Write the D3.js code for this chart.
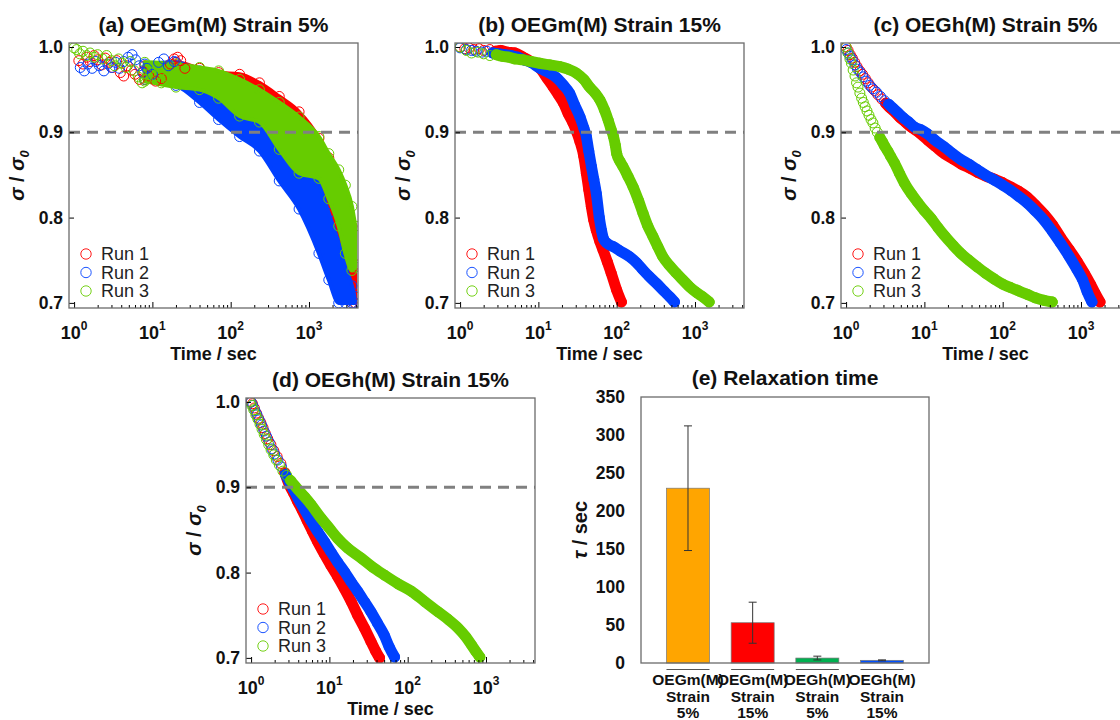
<!DOCTYPE html>
<html>
<head>
<meta charset="utf-8">
<script src="https://cdn.jsdelivr.net/npm/d3@7"></script>
<style>
  body { margin: 0; background: #fff; }
  svg text { font-family: "Liberation Sans", Arial, sans-serif; }
</style>
</head>
<body>
<svg id="chart" width="1120" height="720"></svg>
<script>
// ---- data: [time (s), sigma/sigma0] ----

// (a) OEGm(M) 5% : noisy, early scattered rings + envelope [t, lo, hi]
const aRun1Early = [[1.15,0.984],[1.3,0.980],[1.45,0.988],[1.6,0.983],[1.8,0.990],[2.0,0.985],[2.25,0.979],[2.5,0.987],[2.8,0.982],[3.1,0.976],[3.5,0.984],[3.9,0.970],[4.3,0.966],[4.8,0.978],[5.4,0.973],[6,0.968],[6.8,0.962],[7.6,0.971],[9,0.966],[11,0.960],[13,0.963],[17,0.980],[19,0.986],[21,0.988],[23,0.984],[26,0.975]]
const aRun2Early = [[1.2,0.976],[1.35,0.972],[1.5,0.980],[1.7,0.975],[1.9,0.983],[2.1,0.978],[2.4,0.972],[2.7,0.980],[3.0,0.976],[3.4,0.982],[3.8,0.975],[4.3,0.983],[4.9,0.988],[5.5,0.991],[6.1,0.985],[6.8,0.978],[7.5,0.970],[8.5,0.975],[10,0.968],[12,0.982],[14,0.986],[16,0.978],[19,0.983]]
const aRun3Early = [[1.0,0.999],[1.08,0.997],[1.18,0.992],[1.3,0.995],[1.45,0.990],[1.6,0.993],[1.8,0.988],[2.0,0.991],[2.3,0.986],[2.6,0.990],[3.0,0.984],[3.3,0.978],[3.7,0.986],[4.1,0.981],[4.6,0.976],[5.2,0.983],[5.9,0.972],[6.6,0.965],[7.4,0.958],[8.2,0.962],[9.5,0.970],[11,0.966],[13,0.958],[15,0.963]]
const aRun1Band = [[8,0.962,0.978],[20,0.958,0.982],[40,0.952,0.975],[70,0.942,0.970],[130,0.925,0.968],[233,0.905,0.958],[417,0.885,0.942],[747,0.860,0.924],[1339,0.835,0.893],[1790,0.800,0.870],[2398,0.766,0.840],[2913,0.738,0.820],[3534,0.700,0.790],[3900,0.700,0.745]]
const aRun2Band = [[8,0.962,0.980],[20,0.955,0.982],[40,0.935,0.972],[70,0.915,0.965],[130,0.895,0.945],[233,0.878,0.925],[417,0.843,0.895],[747,0.810,0.870],[1339,0.758,0.840],[1790,0.727,0.805],[2398,0.700,0.770],[2913,0.700,0.742],[3534,0.700,0.720],[3800,0.700,0.708]]
const aRun3Band = [[8,0.960,0.982],[20,0.953,0.980],[40,0.950,0.976],[70,0.940,0.972],[130,0.919,0.962],[233,0.912,0.950],[417,0.880,0.935],[747,0.852,0.918],[1339,0.846,0.895],[1790,0.822,0.875],[2398,0.790,0.856],[2913,0.758,0.838],[3534,0.738,0.813],[3900,0.742,0.790]]

// (b) OEGm(M) 15%
const bRun1 = [[1.0,1.0],[1.15,0.998],[1.3,0.999],[1.5,0.997],[1.75,0.998],[2.0,0.996],[2.4,0.997],[2.8,0.995],[3.3,0.996],[4,0.994],[5,0.993],[6.4,0.988],[8,0.983],[10.5,0.975],[13,0.963],[15.5,0.953],[18,0.944],[21,0.934],[24,0.922],[27.7,0.911],[31,0.900],[34,0.889],[38,0.872],[41,0.852],[44,0.833],[47.5,0.813],[51,0.797],[55,0.785],[61,0.772],[67,0.762],[76,0.748],[85,0.735],[100,0.715],[115,0.701]]
const bRun2 = [[1.0,0.999],[1.2,0.997],[1.4,0.996],[1.6,0.995],[1.9,0.994],[2.2,0.995],[2.6,0.993],[3.1,0.992],[3.7,0.991],[4.5,0.990],[5.5,0.988],[6.5,0.985],[8,0.982],[10.5,0.975],[13.5,0.970],[17,0.964],[21,0.955],[25,0.946],[29,0.932],[34,0.918],[38,0.905],[41,0.895],[44,0.878],[47.6,0.860],[51,0.845],[55,0.828],[60,0.800],[64,0.785],[68,0.775],[75,0.770],[90,0.766],[110,0.761],[147,0.754],[180,0.747],[215,0.739],[260,0.731],[321,0.723],[400,0.714],[477,0.707],[548,0.701]]
const bRun3 = [[1.0,1.0],[1.2,0.996],[1.4,0.993],[1.7,0.994],[2.0,0.992],[2.4,0.990],[2.9,0.991],[3.5,0.989],[4.2,0.988],[5,0.986],[6.4,0.985],[8,0.983],[10.4,0.981],[14,0.979],[18.8,0.977],[24,0.974],[31,0.969],[38,0.962],[45,0.953],[53,0.946],[61,0.938],[70,0.926],[78,0.914],[85,0.903],[91,0.895],[96,0.885],[100,0.875],[110,0.866],[120,0.860],[140,0.848],[162,0.836],[190,0.820],[217,0.805],[250,0.790],[290,0.778],[335,0.766],[389,0.754],[470,0.744],[577,0.735],[700,0.727],[850,0.719],[1050,0.712],[1260,0.707],[1520,0.701]]

// (c) OEGh(M) 5%
const cRun1 = [[1.0,1.0],[1.06,0.996],[1.13,0.991],[1.2,0.987],[1.29,0.982],[1.38,0.977],[1.5,0.972],[1.62,0.968],[1.76,0.963],[1.92,0.958],[2.1,0.953],[2.3,0.949],[2.55,0.944],[2.85,0.939],[3.2,0.934],[3.6,0.929],[4.15,0.924],[4.8,0.918],[5.7,0.912],[6.8,0.906],[8.5,0.900],[11,0.891],[14,0.883],[17.9,0.875],[23,0.869],[29.3,0.863],[38,0.858],[47.7,0.853],[60,0.849],[78,0.845],[100,0.841],[126,0.836],[160,0.831],[206,0.824],[260,0.815],[337,0.804],[430,0.792],[548,0.777],[700,0.763],[890,0.749],[1100,0.735],[1320,0.722],[1500,0.712],[1750,0.701]]
const cRun2 = [[1.0,0.997],[1.06,0.993],[1.12,0.989],[1.2,0.985],[1.3,0.979],[1.4,0.974],[1.52,0.970],[1.65,0.965],[1.8,0.960],[2.0,0.955],[2.2,0.951],[2.45,0.947],[2.75,0.942],[3.1,0.937],[3.5,0.933],[4.0,0.928],[4.6,0.923],[5.4,0.917],[6.3,0.912],[7.5,0.906],[9,0.903],[11,0.898],[14,0.890],[17.9,0.883],[23,0.875],[29.3,0.868],[38,0.862],[47.7,0.856],[60,0.850],[78,0.844],[100,0.838],[126,0.832],[160,0.825],[206,0.817],[260,0.808],[337,0.797],[430,0.784],[548,0.770],[700,0.755],[890,0.739],[1050,0.727],[1200,0.713],[1380,0.701]]
const cRun3 = [[1.0,1.0],[1.06,0.993],[1.12,0.986],[1.17,0.981],[1.23,0.973],[1.3,0.966],[1.36,0.958],[1.42,0.953],[1.5,0.946],[1.58,0.940],[1.66,0.935],[1.75,0.930],[1.85,0.925],[1.96,0.920],[2.08,0.915],[2.2,0.911],[2.35,0.905],[2.5,0.900],[2.7,0.894],[2.9,0.889],[3.1,0.884],[3.4,0.878],[3.7,0.872],[4.15,0.864],[4.8,0.852],[5.6,0.840],[6.8,0.828],[8.2,0.818],[10,0.808],[12.2,0.799],[15,0.788],[18,0.779],[23,0.768],[29.3,0.758],[37,0.750],[47.6,0.742],[60,0.735],[78,0.728],[100,0.722],[126,0.718],[160,0.714],[206,0.710],[260,0.706],[337,0.703],[430,0.701]]

// (d) OEGh(M) 15%
const dRun1 = [[1.0,1.0],[1.04,0.998],[1.1,0.993],[1.17,0.987],[1.25,0.981],[1.33,0.976],[1.42,0.970],[1.52,0.963],[1.63,0.957],[1.79,0.950],[1.95,0.943],[2.15,0.936],[2.4,0.928],[2.7,0.917],[3.1,0.902],[3.5,0.893],[3.9,0.884],[4.5,0.873],[5.2,0.861],[6.1,0.848],[7.1,0.836],[8.6,0.822],[10.5,0.808],[12.8,0.795],[15.6,0.781],[19,0.766],[23,0.750],[28,0.735],[34,0.719],[39,0.708],[43.7,0.700]]
const dRun2 = [[1.0,1.0],[1.05,0.996],[1.12,0.990],[1.19,0.985],[1.27,0.979],[1.36,0.973],[1.46,0.966],[1.57,0.960],[1.7,0.953],[1.85,0.945],[2.0,0.939],[2.2,0.932],[2.45,0.924],[2.75,0.915],[3.1,0.906],[3.5,0.897],[4.1,0.885],[4.8,0.874],[5.8,0.861],[7.1,0.848],[8.7,0.836],[10.5,0.824],[12.8,0.812],[15.6,0.801],[19,0.789],[23,0.778],[28,0.766],[34,0.754],[41,0.741],[50,0.727],[58,0.713],[68,0.701]]
const dRun3 = [[0.97,1.0],[1.02,0.996],[1.08,0.991],[1.15,0.985],[1.22,0.980],[1.3,0.974],[1.38,0.968],[1.47,0.962],[1.57,0.956],[1.68,0.950],[1.8,0.944],[1.95,0.938],[2.1,0.932],[2.3,0.926],[2.55,0.919],[2.85,0.914],[3.2,0.908],[3.6,0.902],[4.1,0.896],[4.8,0.889],[5.8,0.880],[7.8,0.864],[10,0.852],[12.8,0.840],[17,0.829],[25.5,0.817],[35,0.807],[50.7,0.797],[75,0.787],[112,0.778],[165,0.766],[245,0.754],[330,0.745],[440,0.735],[550,0.725],[655,0.715],[750,0.707],[835,0.701]]

// (e) relaxation time
const eCategories = [['OEGm(M)', 'Strain', '5%'], ['OEGm(M)', 'Strain', '15%'], ['OEGh(M)', 'Strain', '5%'], ['OEGh(M)', 'Strain', '15%']]
const eValues = [230, 53, 6.5, 3.5]
const eErrors = [82, 27, 2.5, 0.6]
const eColors = ['#ffa500', '#ff0000', '#00b050', '#0050ff']

const runLabels = ['Run 1', 'Run 2', 'Run 3']
const runColors = ['#ff0000', '#0040ff', '#66cc00']
const yTicks = [0.7, 0.8, 0.9, 1.0]
const xMajor = [1, 10, 100, 1000]
const eTicks = [0, 50, 100, 150, 200, 250, 300, 350]

// ---- drawing ----
const svg = d3.select('#chart')
const W = 289, H = 265
const FONT = '"Liberation Sans", Arial, sans-serif'

const xMinor = []
xMajor.forEach(m => { for (let k = 2; k <= 9; k++) if (m * k < 4200) xMinor.push(m * k) })

function logPanel(cfg) {
  const g = svg.append('g').attr('transform', `translate(${cfg.x},${cfg.y})`)
  const x = d3.scaleLog().domain([Math.pow(10, -0.065), Math.pow(10, 3.626)]).range([0, W])
  const y = d3.scaleLinear().domain([0.694, 1.0047]).range([H, 0])

  g.append('clipPath').attr('id', 'clip-' + cfg.id)
    .append('rect').attr('width', W).attr('height', H)
  const plot = g.append('g').attr('clip-path', `url(#clip-${cfg.id})`)

  const ring = (sel, pts, color) => sel.selectAll(null).data(pts).enter().append('circle')
    .attr('cx', d => x(d[0])).attr('cy', d => y(d[1])).attr('r', 5)
    .attr('fill', 'none').attr('stroke', color).attr('stroke-width', 1)

  if (cfg.bands) {
    const area = d3.area().x(d => x(d[0])).y0(d => y(d[1])).y1(d => y(d[2])).curve(d3.curveMonotoneX)
    cfg.bands.forEach((band, i) => {
      plot.append('path').datum(band).attr('d', area)
        .attr('fill', runColors[i]).attr('stroke', runColors[i]).attr('stroke-width', 4)
        .attr('stroke-linejoin', 'round')
      ring(plot, band.map(d => [d[0], d[1]]), runColors[i])
      ring(plot, band.map(d => [d[0], d[2]]), runColors[i])
    })
    cfg.early.forEach((pts, i) => ring(plot, pts, runColors[i]))
  } else {
    const line = d3.line().x(d => x(d[0])).y(d => y(d[1])).curve(d3.curveMonotoneX)
    cfg.runs.forEach((pts, i) => {
      plot.append('path').datum(pts.filter(d => d[0] >= cfg.bandFrom[i])).attr('d', line)
        .attr('fill', 'none').attr('stroke', runColors[i]).attr('stroke-width', 11)
        .attr('stroke-linecap', 'round').attr('stroke-linejoin', 'round')
      ring(plot, pts, runColors[i])
    })
  }

  // 0.9 threshold
  plot.append('line').attr('x1', 0).attr('x2', W).attr('y1', y(0.9)).attr('y2', y(0.9))
    .attr('stroke', '#808080').attr('stroke-width', 3).attr('stroke-dasharray', '11,7')

  // legend
  runLabels.forEach((lab, i) => {
    const ly = 211 + i * 18.5
    g.append('circle').attr('cx', 17).attr('cy', ly).attr('r', 5.2)
      .attr('fill', 'none').attr('stroke', runColors[i]).attr('stroke-width', 0.9)
    g.append('text').attr('x', 32).attr('y', ly + 6).attr('font-size', 18).attr('fill', '#222').text(lab)
  })

  // axes
  const ya = g.append('g').call(d3.axisLeft(y).tickValues(yTicks).tickSize(-5).tickPadding(6).tickFormat(d3.format('.1f')))
  ya.select('.domain').remove()
  ya.selectAll('text').attr('font-size', 17.5).attr('font-weight', 'bold').attr('font-family', FONT).attr('fill', '#111')
  const xa = g.append('g').attr('transform', `translate(0,${H})`)
    .call(d3.axisBottom(x).tickValues(xMajor).tickSize(-6).tickFormat(''))
  xa.select('.domain').remove()
  const xm = g.append('g').attr('transform', `translate(0,${H})`)
    .call(d3.axisBottom(x).tickValues(xMinor).tickSize(-3).tickFormat(''))
  xm.select('.domain').remove()

  g.selectAll('.xlab').data(xMajor).enter().append('text')
    .attr('x', d => x(d)).attr('y', H + 31).attr('text-anchor', 'middle')
    .attr('font-size', 18).attr('font-weight', 'bold').attr('fill', '#111')
    .each(function (d) {
      const t = d3.select(this)
      t.append('tspan').text('10')
      t.append('tspan').attr('dy', -9).attr('font-size', 12).text(Math.round(Math.log10(d)))
    })

  g.append('rect').attr('width', W).attr('height', H)
    .attr('fill', 'none').attr('stroke', '#6b6b6b').attr('stroke-width', 1.3)

  g.append('text').attr('x', W / 2).attr('y', H + 52).attr('text-anchor', 'middle')
    .attr('font-size', 18).attr('font-weight', 'bold').attr('fill', '#111').text('Time / sec')

  const yl = g.append('text').attr('transform', `translate(-45,${H / 2}) rotate(-90)`)
    .attr('text-anchor', 'middle').attr('font-size', 20).attr('font-weight', 'bold').attr('fill', '#111')
  yl.append('tspan').attr('font-style', 'italic').text('σ')
  yl.append('tspan').text(' / ')
  yl.append('tspan').attr('font-style', 'italic').text('σ')
  yl.append('tspan').attr('font-style', 'italic').attr('font-size', 13).attr('dy', 5).text('0')

  g.append('text').attr('x', W / 2).attr('y', -11).attr('text-anchor', 'middle')
    .attr('font-size', 21).attr('font-weight', 'bold').attr('fill', '#111').text(cfg.title)
}

logPanel({ id: 'a', x: 69, y: 43, title: '(a) OEGm(M) Strain 5%',
  bands: [aRun1Band, aRun2Band, aRun3Band], early: [aRun1Early, aRun2Early, aRun3Early] })
logPanel({ id: 'b', x: 455, y: 43, title: '(b) OEGm(M) Strain 15%',
  runs: [bRun1, bRun2, bRun3], bandFrom: [2.5, 2.5, 2.5] })
logPanel({ id: 'c', x: 841, y: 43, title: '(c) OEGh(M) Strain 5%',
  runs: [cRun1, cRun2, cRun3], bandFrom: [3.2, 3.5, 2.6] })
logPanel({ id: 'd', x: 246, y: 398, title: '(d) OEGh(M) Strain 15%',
  runs: [dRun1, dRun2, dRun3], bandFrom: [2.6, 2.6, 2.9] })

// (e) bar chart
const EW = 288, EH = 266
const eg = svg.append('g').attr('transform', 'translate(641,397)')
const ex = d3.scaleBand().domain(d3.range(eValues.length)).range([0, EW]).paddingInner(0.335).paddingOuter(0.394)
const ey = d3.scaleLinear().domain([0, 350]).range([EH, 0])

eg.selectAll('.bar').data(eValues).enter().append('rect')
  .attr('x', (d, i) => ex(i)).attr('width', ex.bandwidth())
  .attr('y', d => ey(d)).attr('height', d => EH - ey(d))
  .attr('fill', (d, i) => eColors[i]).attr('stroke', '#777').attr('stroke-width', 0.7)

eValues.forEach((v, i) => {
  const cx = ex(i) + ex.bandwidth() / 2
  const e = eErrors[i]
  eg.append('line').attr('x1', cx).attr('x2', cx).attr('y1', ey(v - e)).attr('y2', ey(v + e))
    .attr('stroke', '#333').attr('stroke-width', 1)
  ;[v - e, v + e].forEach(c => eg.append('line').attr('x1', cx - 4).attr('x2', cx + 4)
    .attr('y1', ey(c)).attr('y2', ey(c)).attr('stroke', '#333').attr('stroke-width', 1))
  eg.append('line').attr('x1', ex(i)).attr('x2', ex(i) + ex.bandwidth())
    .attr('y1', EH + 6.5).attr('y2', EH + 6.5).attr('stroke', '#555').attr('stroke-width', 1)
  eCategories[i].forEach((s, k) => eg.append('text').attr('x', cx).attr('y', EH + 22 + k * 16.5)
    .attr('text-anchor', 'middle').attr('font-size', 15.5).attr('font-weight', 'bold').attr('fill', '#111').text(s))
})

const eya = eg.append('g').call(d3.axisLeft(ey).tickValues(eTicks).tickSize(0).tickPadding(16))
eya.select('.domain').remove()
eya.selectAll('text').attr('font-size', 17.5).attr('font-weight', 'bold').attr('font-family', FONT).attr('fill', '#111')

eg.append('rect').attr('width', EW).attr('height', EH)
  .attr('fill', 'none').attr('stroke', '#6b6b6b').attr('stroke-width', 1.3)

const eyl = eg.append('text').attr('transform', `translate(-54,${EH / 2}) rotate(-90)`)
  .attr('text-anchor', 'middle').attr('font-size', 20).attr('font-weight', 'bold').attr('fill', '#111')
eyl.append('tspan').attr('font-style', 'italic').text('τ')
eyl.append('tspan').text(' / sec')

eg.append('text').attr('x', EW / 2).attr('y', -12).attr('text-anchor', 'middle')
  .attr('font-size', 21).attr('font-weight', 'bold').attr('fill', '#111').text('(e) Relaxation time')
</script>
</body>
</html>
